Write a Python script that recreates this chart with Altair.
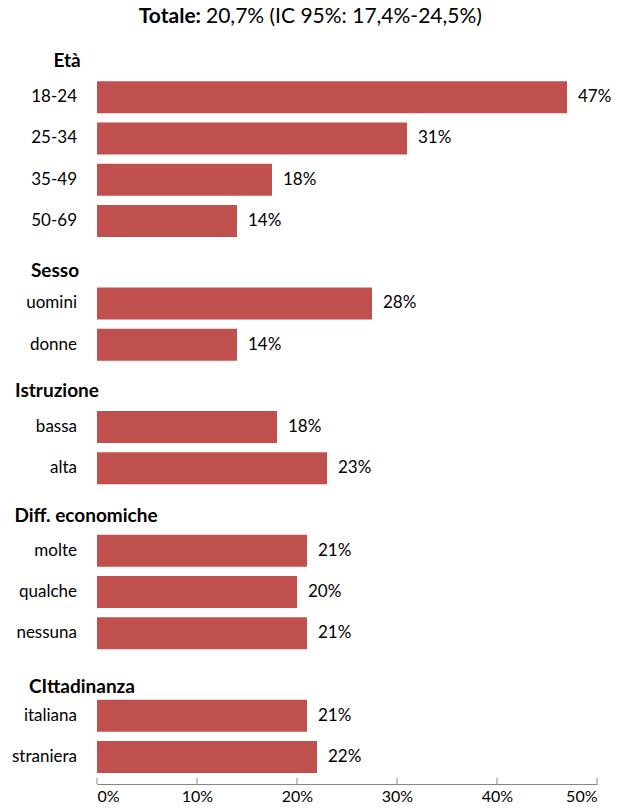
import altair as alt
import pandas as pd

# ---- data -------------------------------------------------------------
rows = ["Età", "18-24", "25-34", "35-49", "50-69",
        "Sesso", "uomini", "donne",
        "Istruzione", "bassa", "alta",
        "Diff. economiche", "molte", "qualche", "nessuna",
        "CIttadinanza", "italiana", "straniera"]
groups = ["Età", "Sesso", "Istruzione", "Diff. economiche", "CIttadinanza"]
categories = ["18-24", "25-34", "35-49", "50-69", "uomini", "donne",
              "bassa", "alta", "molte", "qualche", "nessuna",
              "italiana", "straniera"]
values = [47, 31, 17.5, 14, 27.5, 14, 18, 23, 21, 20, 21, 21, 22]
value_labels = ["47%", "31%", "18%", "14%", "28%", "14%", "18%", "23%",
                "21%", "20%", "21%", "21%", "22%"]
tick_values = [0, 10, 20, 30, 40, 50]
title_bold = "Totale:"
title_rest = "20,7% (IC 95%: 17,4%-24,5%)"

# ---- styling ----------------------------------------------------------
FONT = "Lato"
BAR = "#C0504D"
GREY = "#868686"
W, H = 500, 755

# header label placement (center x in plot px, vertical nudge)
header_pos = {"Età": (-30, 5), "Sesso": (-42, 9), "Istruzione": (-40, 5),
              "Diff. economiche": (-11, 6), "CIttadinanza": (-15, 12)}

bars_df = pd.DataFrame({"row": categories, "value": values, "label": value_labels})
ticks_df = pd.DataFrame({"value": tick_values})

y_enc = alt.Y("row:N", sort=rows,
              scale=alt.Scale(domain=rows, paddingInner=0.224, paddingOuter=0.267),
              axis=None)
x_axis = alt.Axis(values=tick_values, labelExpr="datum.value + '%'", grid=False,
                  domainColor=GREY, ticks=False, labelFont=FONT, labelFontSize=16,
                  labelColor="black", labelPadding=4, title=None)
x_scale = alt.Scale(domain=[0, 50], nice=False)

bars = alt.Chart(bars_df).mark_bar(color=BAR).encode(
    x=alt.X("value:Q", scale=x_scale, axis=x_axis), y=y_enc)

vlabels = alt.Chart(bars_df).mark_text(
    align="left", baseline="middle", dx=11, font=FONT, fontSize=17, color="black"
).encode(x=alt.X("value:Q", scale=x_scale, axis=x_axis), y=y_enc, text="label:N")

clabels = alt.Chart(bars_df).mark_text(
    align="right", baseline="middle", font=FONT, fontSize=17, color="black"
).encode(x=alt.value(-20), y=y_enc, text="row:N")

ticks = alt.Chart(ticks_df).mark_rule(color=GREY).encode(
    x=alt.X("value:Q", scale=x_scale, axis=x_axis),
    y=alt.value(H - 6), y2=alt.value(H))

headers = []
for g in groups:
    cx, dy = header_pos[g]
    headers.append(
        alt.Chart(pd.DataFrame({"row": [g]})).mark_text(
            align="center", baseline="middle", dy=dy, font=FONT, fontSize=19,
            fontWeight="bold", color="black"
        ).encode(x=alt.value(cx), y=y_enc, text="row:N"))

t1 = alt.Chart(pd.DataFrame({"t": [title_bold]})).mark_text(
    align="right", baseline="alphabetic", font=FONT, fontSize=21,
    fontWeight="bold", color="black"
).encode(x=alt.value(104), y=alt.value(-6), text="t:N")
t2 = alt.Chart(pd.DataFrame({"t": [title_rest]})).mark_text(
    align="left", baseline="alphabetic", font=FONT, fontSize=21, color="black"
).encode(x=alt.value(109), y=alt.value(-6), text="t:N")

chart = alt.layer(bars, ticks, vlabels, clabels, *headers, t1, t2).properties(
    width=W, height=H,
    autosize=alt.AutoSizeParams(type="none"),
    padding={"left": 89, "top": 21, "right": 14, "bottom": 19},
).configure_view(stroke=None)

chart.save("out.html", embed_options={"renderer": "svg", "actions": False})
